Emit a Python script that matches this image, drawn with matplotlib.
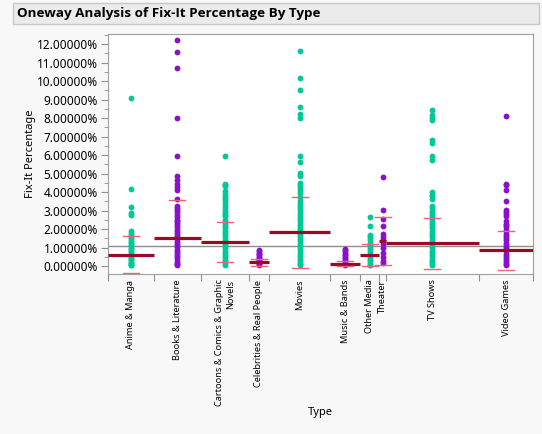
import numpy as np
import matplotlib.pyplot as plt
from matplotlib.patches import Rectangle
from matplotlib.ticker import MultipleLocator

plt.rcParams['font.family'] = ['Noto Sans', 'DejaVu Sans']

# Categorías y tamaños de muestra (anchos de cada grupo)
types = ["Anime & Manga", "Books & Literature", "Cartoons & Comics & Graphic\nNovels",
         "Celebrities & Real People", "Movies", "Music & Bands", "Other Media",
         "Theater", "TV Shows", "Video Games"]
counts = [74, 77, 76, 33, 99, 47, 32, 10, 150, 88]
group_means = [0.63, 1.55, 1.30, 0.22, 1.84, 0.14, 0.60, 1.37, 1.24, 0.86]
group_sds = [0.98, 2.03, 1.08, 0.19, 1.92, 0.15, 0.60, 1.30, 1.38, 1.05]
grand_mean = 1.10

# Valores (%)
anime = [9.09, 4.17, 3.18, 2.90, 2.77, 1.89, 1.80, 1.70, 1.60, 1.50, 1.42, 1.33, 1.25,
         1.16, 1.08, 1.00, 0.92, 0.84, 0.76, 0.68, 0.60, 0.52, 0.45, 0.38, 0.31, 0.25,
         0.19, 0.14, 0.09, 0.05]
books = [12.23, 11.59, 10.69, 7.99, 5.97, 4.86, 4.64, 4.46, 4.30, 4.10, 3.63, 3.24, 3.15,
         3.06, 2.92, 2.78, 2.64, 2.52, 2.43, 2.34, 2.22, 2.10, 1.98, 1.86, 1.74, 1.62,
         1.50, 1.38, 1.26, 1.14, 1.02, 0.90, 0.78, 0.66, 0.54, 0.42, 0.30, 0.20, 0.12, 0.05]
cartoons = [5.97, 4.46, 4.38, 4.32, 4.05, 3.92, 3.80, 3.68, 3.55, 3.42, 3.24, 3.12, 3.00,
            2.88, 2.76, 2.70, 2.52, 2.40, 2.28, 2.16, 2.04, 1.92, 1.80, 1.68, 1.56, 1.44,
            1.32, 1.20, 1.08, 0.96, 0.84, 0.72, 0.60, 0.48, 0.36, 0.26, 0.16, 0.08]
celebs = [0.90, 0.82, 0.74, 0.66, 0.58, 0.50, 0.42, 0.34, 0.26, 0.18, 0.10, 0.05]
movies = [11.62, 10.17, 9.54, 8.62, 8.24, 7.99, 5.97, 5.61, 5.04, 4.95, 4.86, 4.50, 4.38,
          4.26, 4.10, 3.96, 3.74, 3.50, 3.38, 3.26, 3.14, 3.02, 2.90, 2.78, 2.66, 2.54,
          2.42, 2.30, 2.18, 2.06, 1.94, 1.82, 1.70, 1.58, 1.46, 1.34, 1.22, 1.10, 0.98,
          0.86, 0.74, 0.62, 0.50, 0.38, 0.28, 0.18, 0.10, 0.05]
music = [0.94, 0.85, 0.76, 0.67, 0.58, 0.50, 0.42, 0.34, 0.26, 0.18, 0.10, 0.05]
other = [2.68, 2.16, 1.71, 1.62, 1.53, 1.40, 1.26, 1.17, 1.08, 0.99, 0.90, 0.78, 0.63,
         0.54, 0.45, 0.36, 0.27, 0.18, 0.09, 0.04]
theater = [4.82, 3.04, 2.55, 2.16, 1.76, 1.60, 1.44, 1.20, 0.99, 0.70, 0.50, 0.30, 0.18]
tv = [8.42, 8.19, 8.00, 7.88, 6.84, 6.66, 5.97, 5.76, 3.99, 3.85, 3.78, 3.63, 3.24, 3.12,
      3.00, 2.88, 2.76, 2.64, 2.52, 2.40, 2.28, 2.16, 2.04, 1.92, 1.80, 1.68, 1.56, 1.44,
      1.32, 1.20, 1.08, 0.96, 0.84, 0.72, 0.60, 0.48, 0.36, 0.26, 0.16, 0.08]
vgames = [8.13, 4.46, 4.36, 4.10, 3.51, 3.06, 2.95, 2.80, 2.70, 2.43, 2.30, 2.20, 2.10,
          1.98, 1.88, 1.76, 1.64, 1.52, 1.40, 1.28, 1.16, 1.04, 0.92, 0.80, 0.68, 0.56,
          0.44, 0.32, 0.22, 0.12, 0.05]
values = [anime, books, cartoons, celebs, movies, music, other, theater, tv, vgames]

green = '#00C896'
purple = '#8A10D0'
point_colors = [green, purple, green, purple, green, purple, green, purple, green, purple]

edges = np.concatenate([[0], np.cumsum(counts)])
centers = (edges[:-1] + edges[1:]) / 2

fig = plt.figure(figsize=(5.42, 4.34), dpi=100, facecolor='#F8F8F8')
ax = fig.add_axes([107.7 / 542, 1 - 274 / 434, (533.3 - 107.7) / 542, 240 / 434])
ax.set_facecolor('white')

# Título en caja gris
fig.patches.append(Rectangle((13 / 542, 1 - 24.3 / 434), 526 / 542, 21 / 434,
                             transform=fig.transFigure, facecolor='#EBEBEB',
                             edgecolor='#C8C8C8', linewidth=1))
fig.text(17 / 542, 1 - 14 / 434, "Oneway Analysis of Fix-It Percentage By Type",
         fontsize=9.7, fontweight='bold', family=['Open Sans', 'DejaVu Sans'],
         va='center', ha='left', color='black')

ax.axhline(grand_mean, color='#8C8C8C', linewidth=1, zorder=1)

# Puntos por grupo
for i in range(len(types)):
    ax.plot(np.full(len(values[i]), centers[i]), values[i], 'o', color=point_colors[i],
            markersize=4.2, markeredgewidth=0, zorder=2)

# Medias y desviaciones estándar
sd_half = (edges[-1] / 425.6) * 8
for i in range(len(types)):
    ax.plot([edges[i], edges[i + 1]], [group_means[i]] * 2, color='#9B0A25',
            linewidth=2.3, solid_capstyle='butt', zorder=3)
    for s in (-1, 1):
        ax.plot([centers[i] - sd_half, centers[i] + sd_half],
                [group_means[i] + s * group_sds[i]] * 2, color='#F0607A',
                linewidth=1, zorder=3)

ax.set_xlim(0, edges[-1])
ax.set_ylim(-0.42, 12.54)

ax.yaxis.set_major_locator(MultipleLocator(1))
ax.yaxis.set_minor_locator(MultipleLocator(0.5))
ax.set_yticks(np.arange(0, 13))
ax.set_yticklabels([f"{v:.5f}%" for v in range(13)])
ax.tick_params(axis='y', which='major', length=5, color='#909090', labelsize=8.5, pad=2)
ax.tick_params(axis='y', which='minor', length=3, color='#909090')

ax.set_xticks(edges)
ax.set_xticklabels([])
ax.set_xticks(centers, minor=True)
ax.set_xticklabels(types, minor=True, rotation=90, va='top', ha='center',
                   multialignment='right', fontsize=6.6)
ax.tick_params(axis='x', which='major', length=5, color='#909090')
ax.tick_params(axis='x', which='minor', length=0, pad=4)

for sp in ax.spines.values():
    sp.set_color('#A0A0A0')

ax.set_ylabel("Fix-It Percentage", fontsize=8)
ax.yaxis.set_label_coords(-0.168, 0.5)
fig.text(320.5 / 542, 1 - 413 / 434, "Type", fontsize=8, ha='center', va='center')

fig.savefig('out.png', dpi=100, facecolor=fig.get_facecolor())
